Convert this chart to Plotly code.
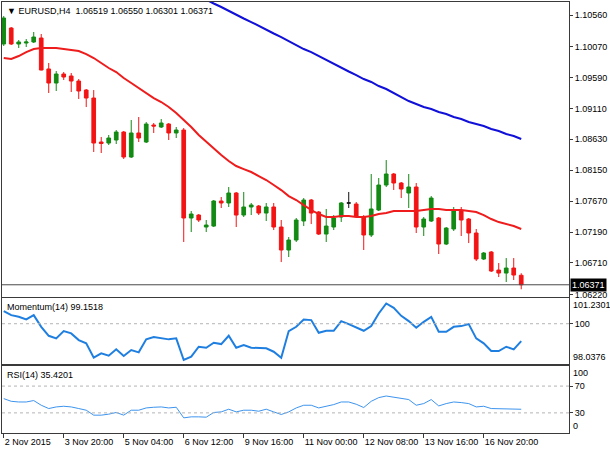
import plotly.graph_objects as go

# EURUSD H4 bars, oldest first
bars = list(range(70))
opens = [1.10110, 1.10358, 1.10110, 1.10125, 1.10141, 1.10203, 1.09722, 1.09504, 1.09644, 1.09613,
         1.09535, 1.09395, 1.09271, 1.08588, 1.08572, 1.08619, 1.08743, 1.08355, 1.08728, 1.08588,
         1.08852, 1.08821, 1.08867, 1.08728, 1.08774, 1.07408, 1.07454, 1.07268, 1.07283, 1.07672,
         1.07641, 1.07796, 1.07454, 1.07579, 1.07594, 1.07485, 1.07579, 1.07268, 1.06911, 1.07066,
         1.07361, 1.07687, 1.07501, 1.07159, 1.07268, 1.07423, 1.07641, 1.07625, 1.07423, 1.07144,
         1.07532, 1.07920, 1.08091, 1.07951, 1.07796, 1.07889, 1.07268, 1.07361, 1.07408, 1.07004,
         1.07237, 1.07516, 1.07392, 1.07175, 1.06771, 1.06880, 1.06600, 1.06553, 1.06631, 1.06519]
highs = [1.10544, 1.10374, 1.10172, 1.10187, 1.10296, 1.10265, 1.09815, 1.09690, 1.09675, 1.09659,
         1.09566, 1.09411, 1.09395, 1.08666, 1.08697, 1.08774, 1.08759, 1.08930, 1.08976, 1.08898,
         1.08883, 1.08945, 1.08883, 1.08821, 1.08805, 1.07516, 1.07470, 1.07377, 1.07687, 1.07734,
         1.07889, 1.07812, 1.07812, 1.07641, 1.07610, 1.07641, 1.07641, 1.07377, 1.07113, 1.07408,
         1.07718, 1.07703, 1.07516, 1.07548, 1.07454, 1.07656, 1.07812, 1.07656, 1.07454, 1.08091,
         1.08029, 1.08308, 1.08107, 1.07967, 1.08091, 1.07951, 1.07423, 1.07749, 1.07423, 1.07268,
         1.07579, 1.07579, 1.07408, 1.07237, 1.06880, 1.06895, 1.06709, 1.06786, 1.06786, 1.06550]
lows = [1.10079, 1.10094, 1.10048, 1.10063, 1.10125, 1.09700, 1.09349, 1.09380, 1.09551, 1.09364,
        1.09256, 1.09131, 1.08433, 1.08417, 1.08541, 1.08557, 1.08324, 1.08340, 1.08588, 1.08572,
        1.08728, 1.08805, 1.08619, 1.08650, 1.07035, 1.07190, 1.07346, 1.07190, 1.07268, 1.07563,
        1.07579, 1.07268, 1.07423, 1.07454, 1.07454, 1.07361, 1.07221, 1.06724, 1.06802, 1.07035,
        1.07283, 1.07314, 1.07144, 1.07035, 1.07221, 1.07346, 1.07563, 1.07423, 1.06911, 1.07113,
        1.07516, 1.07889, 1.07843, 1.07718, 1.07563, 1.07175, 1.07128, 1.07346, 1.06849, 1.06988,
        1.07206, 1.07128, 1.07019, 1.06740, 1.06755, 1.06569, 1.06491, 1.06414, 1.06445, 1.06301]
closes = [1.10513, 1.10110, 1.10141, 1.10141, 1.10218, 1.09706, 1.09504, 1.09644, 1.09597, 1.09535,
          1.09380, 1.09271, 1.08572, 1.08565, 1.08650, 1.08743, 1.08355, 1.08728, 1.08650, 1.08867,
          1.08836, 1.08883, 1.08728, 1.08774, 1.07408, 1.07470, 1.07377, 1.07299, 1.07672, 1.07641,
          1.07796, 1.07454, 1.07579, 1.07610, 1.07485, 1.07579, 1.07268, 1.06911, 1.07066, 1.07377,
          1.07687, 1.07485, 1.07159, 1.07283, 1.07408, 1.07641, 1.07641, 1.07439, 1.07144, 1.07548,
          1.07920, 1.08091, 1.07951, 1.07858, 1.07889, 1.07268, 1.07392, 1.07718, 1.07004, 1.07252,
          1.07532, 1.07377, 1.07175, 1.06771, 1.06864, 1.06585, 1.06553, 1.06631, 1.06522, 1.06371]

# moving averages as drawn on the chart
ma_fast = [1.09892, 1.09877, 1.09923, 1.09985, 1.10032, 1.10048, 1.10048, 1.10048, 1.10032, 1.10016,
           1.10001, 1.09954, 1.09892, 1.09815, 1.09737, 1.09675, 1.09582, 1.09504, 1.09426, 1.09349,
           1.09271, 1.09209, 1.09131, 1.09038, 1.08929, 1.08821, 1.08696, 1.08588, 1.08479, 1.08386,
           1.08293, 1.08215, 1.08168, 1.08122, 1.08060, 1.07998, 1.07920, 1.07842, 1.07749, 1.07687,
           1.07609, 1.07532, 1.07470, 1.07423, 1.07423, 1.07438, 1.07438, 1.07423, 1.07423, 1.07438,
           1.07470, 1.07485, 1.07516, 1.07516, 1.07516, 1.07516, 1.07532, 1.07547, 1.07547, 1.07532,
           1.07532, 1.07532, 1.07516, 1.07501, 1.07454, 1.07392, 1.07345, 1.07314, 1.07283, 1.07237]
ma_slow = [None] * 25 + [
           1.10917, 1.10855, 1.10793, 1.10739, 1.10684, 1.10622, 1.10568, 1.10506, 1.10451, 1.10389,
           1.10335, 1.10273, 1.10218, 1.10156, 1.10094, 1.10032, 1.09985, 1.09923, 1.09861, 1.09799,
           1.09737, 1.09683, 1.09628, 1.09566, 1.09520, 1.09457, 1.09411, 1.09349, 1.09287, 1.09224,
           1.09178, 1.09131, 1.09100, 1.09054, 1.09023, 1.08976, 1.08945, 1.08898, 1.08867, 1.08836,
           1.08790, 1.08759, 1.08712, 1.08681, 1.08634]

momentum = [100.613, 100.419, 100.336, 100.210, 100.419, 99.850, 99.413, 99.286, 99.641, 99.529,
            99.204, 99.043, 98.344, 98.558, 98.441, 98.752, 98.426, 98.718, 98.606, 99.238,
            99.350, 99.286, 99.238, 99.286, 98.232, 98.392, 98.878, 98.830, 99.073, 99.009,
            99.413, 98.830, 98.961, 98.830, 98.800, 98.800, 98.635, 98.344, 99.641, 99.850,
            100.210, 100.176, 99.558, 99.656, 99.656, 100.127, 99.981, 99.821, 99.656, 99.884,
            100.501, 100.987, 100.773, 100.385, 100.127, 99.801, 100.093, 100.336, 99.607, 99.607,
            99.850, 99.884, 99.981, 99.286, 99.043, 98.669, 98.669, 98.878, 98.752, 99.1518]
rsi = [51.3, 47.3, 46.3, 46.3, 48.4, 41.4, 36.5, 38.9, 39.9, 38.9,
       36.5, 34.0, 26.6, 26.6, 28.1, 30.6, 26.6, 34.0, 34.0, 37.4,
       38.4, 38.9, 37.4, 38.4, 22.6, 24.1, 24.1, 23.6, 30.6, 31.5,
       35.5, 31.5, 34.0, 34.0, 32.5, 35.5, 31.5, 27.6, 31.5, 37.4,
       41.4, 41.4, 37.4, 39.9, 42.4, 46.3, 46.3, 42.9, 38.0, 47.3,
       52.8, 55.2, 53.7, 51.3, 49.9, 41.4, 43.9, 49.9, 40.4, 43.9,
       46.3, 45.4, 43.9, 38.9, 39.9, 36.5, 36.5, 36.5, 36.5, 35.4201]

time_labels = ["2 Nov 2015", "3 Nov 20:00", "5 Nov 04:00", "6 Nov 12:00", "9 Nov 16:00",
               "11 Nov 00:00", "12 Nov 08:00", "13 Nov 16:00", "16 Nov 20:00"]
price_ticks = [1.10560, 1.10070, 1.09590, 1.09110, 1.08630, 1.08150, 1.07670, 1.07190, 1.06710, 1.06220]
mom_min, mom_max = 98.0376, 101.2301

FONT = "Liberation Sans, Arial, sans-serif"
GREEN = "#138a13"
RED = "#f21414"
FRAME = "#3a3a3a"

doji = [i for i in bars if opens[i] == closes[i]]
normal = [i for i in bars if opens[i] != closes[i]]

fig = go.Figure()
fig.add_trace(go.Candlestick(
    x=[bars[i] for i in normal], open=[opens[i] for i in normal], high=[highs[i] for i in normal],
    low=[lows[i] for i in normal], close=[closes[i] for i in normal],
    increasing=dict(line=dict(color=GREEN, width=1), fillcolor=GREEN),
    decreasing=dict(line=dict(color=RED, width=1), fillcolor=RED),
    xaxis="x", yaxis="y", hoverinfo="skip"))
fig.add_trace(go.Candlestick(
    x=[bars[i] for i in doji], open=[opens[i] for i in doji], high=[highs[i] for i in doji],
    low=[lows[i] for i in doji], close=[closes[i] for i in doji],
    increasing=dict(line=dict(color="#111111", width=1), fillcolor="#111111"),
    decreasing=dict(line=dict(color="#111111", width=1), fillcolor="#111111"),
    xaxis="x", yaxis="y", hoverinfo="skip"))
fig.add_trace(go.Scatter(x=bars, y=ma_slow, mode="lines", line=dict(color="#1010d8", width=2),
                         xaxis="x", yaxis="y"))
fig.add_trace(go.Scatter(x=bars, y=ma_fast, mode="lines", line=dict(color="#ee1c1c", width=2),
                         xaxis="x", yaxis="y"))
fig.add_trace(go.Scatter(x=bars, y=momentum, mode="lines", line=dict(color="#1f7fe0", width=2),
                         xaxis="x2", yaxis="y2"))
fig.add_trace(go.Scatter(x=bars, y=rsi, mode="lines", line=dict(color="#3d94ee", width=1),
                         xaxis="x3", yaxis="y3"))

# dotted levels and the bid line
dots = dict(color="#b4b4b4", width=1, dash="dot")
fig.add_shape(type="line", xref="paper", x0=0, x1=1, yref="y2", y0=100, y1=100, line=dots)
for lvl in (70, 30):
    fig.add_shape(type="line", xref="paper", x0=0, x1=1, yref="y3", y0=lvl, y1=lvl, line=dots)
fig.add_shape(type="line", xref="paper", x0=0, x1=1, yref="y", y0=closes[-1], y1=closes[-1],
              line=dict(color="#4a4a4a", width=1))

xcommon = dict(range=[-0.23, 75.37], showgrid=False, zeroline=False, showline=True,
               linecolor=FRAME, linewidth=1, mirror=True, fixedrange=True, automargin=False)
ycommon = dict(side="right", showgrid=False, zeroline=False, showline=True, linecolor=FRAME,
               linewidth=1, mirror=True, ticks="outside", ticklen=3, tickcolor=FRAME,
               tickfont=dict(family=FONT, size=9, color="#000"), fixedrange=True, automargin=False)

fig.update_layout(
    width=610, height=450,
    margin=dict(l=2, r=41, t=2, b=17),
    paper_bgcolor="white", plot_bgcolor="white",
    showlegend=False, hovermode=False,
    font=dict(family=FONT, size=9, color="#000"),
    xaxis=dict(xcommon, anchor="y", showticklabels=False, ticks="", rangeslider=dict(visible=False)),
    xaxis2=dict(xcommon, anchor="y2", matches="x", showticklabels=False, ticks=""),
    xaxis3=dict(xcommon, anchor="y3", matches="x", tickmode="array",
                tickvals=bars[::8], ticktext=time_labels, ticks="outside", ticklen=4,
                tickcolor=FRAME, ticklabelposition="outside right", tickangle=0,
                tickfont=dict(family=FONT, size=9, color="#000")),
    yaxis=dict(ycommon, domain=[0.3155, 1], range=[1.06181, 1.10762], anchor="x",
               tickmode="array", tickvals=price_ticks, ticktext=["%.5f" % p for p in price_ticks]),
    yaxis2=dict(ycommon, domain=[0.1601, 0.3121], range=[mom_min, mom_max], anchor="x2",
                tickmode="array", tickvals=[100], ticktext=["100"]),
    yaxis3=dict(ycommon, domain=[0, 0.1555], range=[0, 100], anchor="x3",
                tickmode="array", tickvals=[70, 30], ticktext=["70", "30"]),
)

# header texts
fig.add_annotation(xref="paper", yref="paper", x=0, y=1, xanchor="left", yanchor="top",
                   xshift=3, yshift=-2, showarrow=False,
                   text="\u25bc EURUSD,H4\u00a0\u00a0%.5f %.5f %.5f %.5f" % (opens[-1], highs[-1], lows[-1], closes[-1]))
fig.add_annotation(xref="paper", yref="y2 domain", x=0, y=1, xanchor="left", yanchor="top",
                   xshift=3, yshift=-2, showarrow=False, text="Momentum(14) %.4f" % momentum[-1])
fig.add_annotation(xref="paper", yref="y3 domain", x=0, y=1, xanchor="left", yanchor="top",
                   xshift=3, yshift=-2, showarrow=False, text="RSI(14) %.4f" % rsi[-1])

# scale labels at the indicator window edges
edge = dict(xref="paper", x=1, xanchor="left", xshift=2, showarrow=False)
fig.add_annotation(edge, yref="y2", y=mom_max, yanchor="top", text="%.4f" % mom_max)
fig.add_annotation(edge, yref="y2", y=mom_min, yanchor="bottom", text="%.4f" % mom_min)
fig.add_annotation(edge, yref="y3", y=100, yanchor="top", text="100")
fig.add_annotation(edge, yref="y3", y=0, yanchor="bottom", text="0")

# current price tag
fig.add_annotation(xref="paper", x=1, xanchor="left", xshift=1, yref="y", y=closes[-1],
                   yanchor="middle", showarrow=False, text="%.5f" % closes[-1],
                   bgcolor="#000000", font=dict(color="#ffffff", size=9, family=FONT), borderpad=1)

# the page's default body margin would push the 610x450 figure out of the window
fig.write_html("out.html", config={"displayModeBar": False},
               post_script="document.body.style.margin='0px';")
